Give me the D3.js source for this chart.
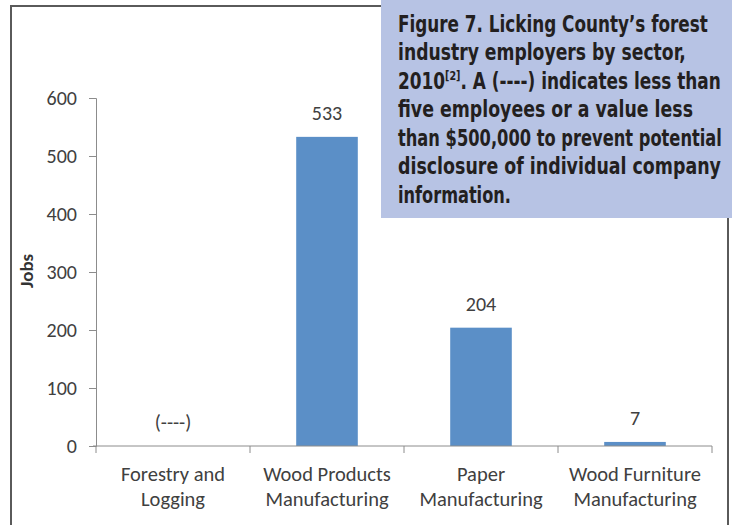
<!DOCTYPE html>
<html><head><meta charset="utf-8">
<script src="https://cdn.jsdelivr.net/npm/d3@7"></script>
<style>body{margin:0;background:#fff}svg{display:block}</style>
</head><body>
<svg id="c" width="732" height="525"></svg>
<script>
const categories = [["Forestry and","Logging"],["Wood Products","Manufacturing"],["Paper","Manufacturing"],["Wood Furniture","Manufacturing"]];
const values = [0, 533, 204, 7];
const valueLabels = ["(----)", "533", "204", "7"];
const yTicks = [0,100,200,300,400,500,600];
const yTitle = "Jobs";
const captionLines = [
  ["Figure 7. Licking County\u2019s forest"],
  ["industry employers by sector,"],
  ["2010", "[2]", ". A (----) indicates less than"],
  ["five employees or a value less"],
  ["than $500,000 to prevent potential"],
  ["disclosure of individual company"],
  ["information."]
];
const captionWidths = [310, 288, 323, 295, 324, 323, 113];

const svg = d3.select("#c");
const font = "Carlito, 'Open Sans', sans-serif";
const x = d3.scaleBand().domain(d3.range(categories.length)).range([96, 712]).padding(0);
const y = d3.scaleLinear().domain([0, 600]).range([446, 98]);

// frame
svg.append("path").attr("d","M11,525 V6 H381").attr("fill","none").attr("stroke","#5a5a5a").attr("stroke-width",2);
svg.append("line").attr("x1",728).attr("x2",728).attr("y1",218).attr("y2",525).attr("stroke","#5a5a5a").attr("stroke-width",2);

// y axis
const ya = svg.append("g").attr("transform","translate(96,0)")
  .call(d3.axisLeft(y).tickValues(yTicks).tickSize(7).tickPadding(12));
ya.select(".domain").attr("stroke","#8c8c8c");
ya.selectAll(".tick line").attr("stroke","#8c8c8c");
ya.selectAll(".tick text").attr("font-family",font).attr("font-size",20).attr("fill","#404040");

// bars
const bw = x.bandwidth()*0.4;
svg.selectAll("rect.bar").data(values).join("rect").attr("class","bar")
  .attr("x",(d,i)=>x(i)+x.bandwidth()/2-bw/2)
  .attr("y",d=>y(d)).attr("width",bw).attr("height",d=>y(0)-y(d))
  .attr("fill","#5b8fc7");

// x axis
const xa = svg.append("g").attr("transform","translate(0,446)");
xa.append("line").attr("x1",93).attr("x2",712).attr("stroke","#8c8c8c");
const bounds = d3.range(categories.length+1).map(i => i<categories.length ? x(i) : x(categories.length-1)+x.bandwidth());
xa.selectAll("line.tk").data(bounds).join("line").attr("class","tk")
  .attr("x1",d=>d).attr("x2",d=>d).attr("y1",0).attr("y2",7).attr("stroke","#8c8c8c");
categories.forEach((c,i)=>{
  const t = svg.append("text").attr("text-anchor","middle").attr("font-family",font)
    .attr("font-size",20.5).attr("fill","#404040");
  c.forEach((ln,j)=>t.append("tspan").attr("x",x(i)+x.bandwidth()/2).attr("y",481+j*25).text(ln));
});

// value labels
svg.selectAll("text.val").data(values).join("text").attr("class","val")
  .attr("x",(d,i)=>x(i)+x.bandwidth()/2).attr("y",d=>y(d)-17)
  .attr("text-anchor","middle").attr("font-family",font).attr("font-size",20).attr("fill","#404040")
  .text((d,i)=>valueLabels[i]);

// y title
svg.append("text").attr("transform","translate(33,271) rotate(-90)").attr("text-anchor","middle")
  .attr("font-family",font).attr("font-weight","bold").attr("font-size",19).attr("fill","#333").text(yTitle);

// caption box
svg.append("rect").attr("x",381).attr("y",0).attr("width",351).attr("height",218).attr("fill","#b7c3e4");
const cfont = "'Liberation Sans Narrow', 'DejaVu Sans Condensed', 'Liberation Sans', sans-serif";
captionLines.forEach((parts,i)=>{
  const g = svg.append("g");
  const t = g.append("text").attr("x",0).attr("y",0).attr("font-family",cfont).attr("font-weight","bold")
    .attr("font-size",23).attr("fill","#231f20");
  if(parts.length===1) t.text(parts[0]);
  else {
    t.append("tspan").text(parts[0]);
    t.append("tspan").attr("font-size",13).attr("dy",-9).text(parts[1]);
    t.append("tspan").attr("dy",9).text(parts[2]);
  }
  const w = t.node().getComputedTextLength();
  const sx = captionWidths[i]/w;
  g.attr("transform",`translate(398,${31.5+i*28.5}) scale(${sx},1)`);
});
</script>
</body></html>
